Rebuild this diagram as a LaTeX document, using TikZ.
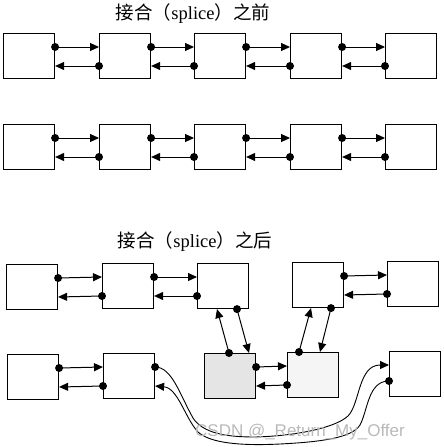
\documentclass[tikz,border=0pt]{standalone}
\usepackage{fontspec}
\setmainfont{Liberation Serif}
\newfontfamily\cjk{Noto Sans CJK SC}
\newfontfamily\wmfont{Liberation Sans}
\usetikzlibrary{arrows.meta,calc}
\begin{document}
\begin{tikzpicture}[x=1pt,y=-1pt,
  box/.style={draw,line width=1.1pt,minimum width=51pt,minimum height=45pt,anchor=north west,inner sep=0pt},
  nx/.style={-{Triangle[length=9pt,width=8pt]},line width=1pt},
  curve/.style={-{Triangle[length=9pt,width=8pt]},line width=0.9pt},
  title/.style={font=\fontsize{18.5}{18.5}\selectfont}]
\useasboundingbox (0,0) rectangle (444,447);
\newcommand\lnk[2]{\fill[black] #1 circle[radius=4pt]; \draw[nx] #1 -- #2;}
\newcommand\pair[2]{%
  \lnk{($(#1.north east)+(0,14)$)}{($(#2.north west)+(0,14)$)}
  \lnk{($(#2.north west)+(0,33)$)}{($(#1.north east)+(0,33)$)}}

% titles
\node[title] (t1) at (193,14) {{\cjk 接合（}splice{\cjk ）之前}};
\node[title] (t2) at (195,242) {{\cjk 接合（}splice{\cjk ）之后}};

% row 1
\node[box] (a1) at (3,33) {};
\node[box] (a2) at (99,33) {};
\node[box] (a3) at (194,33) {};
\node[box] (a4) at (290,33) {};
\node[box] (a5) at (385,33) {};
\pair{a1}{a2}\pair{a2}{a3}\pair{a3}{a4}\pair{a4}{a5}

% row 2
\node[box] (b1) at (3,124) {};
\node[box] (b2) at (99,124) {};
\node[box] (b3) at (194,124) {};
\node[box] (b4) at (290,124) {};
\node[box] (b5) at (385,124) {};
\pair{b1}{b2}\pair{b2}{b3}\pair{b3}{b4}\pair{b4}{b5}

% after splice, row 3
\node[box] (A) at (6,264) {};
\node[box] (B) at (102,263) {};
\node[box] (C) at (197,263) {};
\node[box] (D) at (292,262) {};
\node[box] (E) at (387,261) {};
\pair{A}{B}\pair{B}{C}\pair{D}{E}

% row 4
\node[box] (F) at (7,354) {};
\node[box] (G) at (103,353) {};
\node[box,fill=gray!20] (H) at (204,353) {};
\node[box,fill=gray!8] (I) at (287,352) {};
\node[box] (J) at (389,351) {};
\pair{F}{G}\pair{H}{I}

% vertical links
\lnk{($(C.south west)+(40,0)$)}{($(H.north west)+(45,0)$)}
\lnk{($(H.north west)+(25,0)$)}{($(C.south west)+(20,0)$)}
\lnk{($(I.north west)+(12,0)$)}{($(D.south west)+(19,0)$)}
\lnk{($(D.south west)+(39,0)$)}{($(I.north west)+(33,0)$)}

% long curves
\fill ($(G.north east)+(0,14)$) circle[radius=4pt];
\draw[curve] ($(G.north east)+(0,14)$) .. controls (172,367) and (180,395) .. (193,418)
  .. controls (203,433) and (225,437) .. (255,437)
  .. controls (295,436) and (335,428) .. (348,416)
  .. controls (360,404) and (358,365) .. ($(J.north west)+(0,14)$);
\fill ($(J.north west)+(0,30)$) circle[radius=4pt];
\draw[curve] ($(J.north west)+(0,30)$) .. controls (368,381) and (368,410) .. (360,425)
  .. controls (352,438) and (320,442) .. (280,444)
  .. controls (240,446) and (210,443) .. (198,432)
  .. controls (185,418) and (178,388) .. ($(G.north east)+(0,33)$);

% watermark
\node[text=gray!55,font=\wmfont\fontsize{17}{17}\selectfont] (wm) at (300,432) {CSDN @\_Return\_My\_Offer};
\end{tikzpicture}
\end{document}
